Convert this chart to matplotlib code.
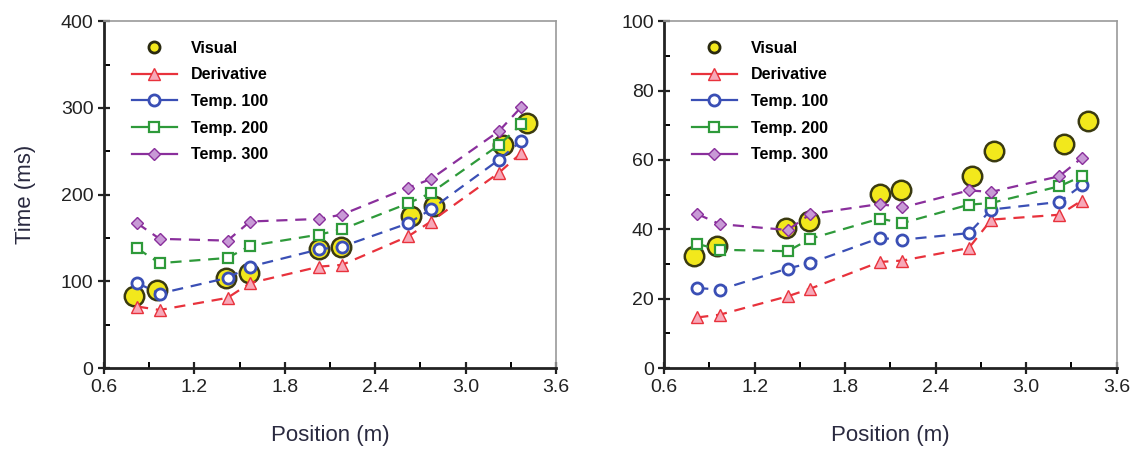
import numpy as np
import matplotlib
matplotlib.use("Agg")
import matplotlib.pyplot as plt
from matplotlib.lines import Line2D
from matplotlib.ticker import MultipleLocator

plt.rcParams['font.family'] = ['Liberation Sans', 'DejaVu Sans']

# positions (m)
pos = [0.82, 0.97, 1.42, 1.57, 2.03, 2.18, 2.62, 2.77, 3.22, 3.37]
pos_visual = [0.80, 0.95, 1.41, 1.56, 2.03, 2.17, 2.64, 2.79, 3.25, 3.41]

# left panel (ms)
left_visual = [83, 90, 104, 110, 137, 140, 175, 187, 257, 283]
left_deriv = [71, 67, 81, 98, 117, 119, 152, 169, 225, 248]
left_t100 = [98, 86, 104, 117, 137, 140, 167, 183, 240, 262]
left_t200 = [138, 121, 127, 141, 154, 160, 190, 202, 257, 281]
left_t300 = [167, 149, 147, 169, 172, 177, 208, 218, 273, 301]

# right panel (ms)
right_visual = [32.4, 35.3, 40.4, 42.5, 50.2, 51.2, 55.3, 62.7, 64.6, 71.3]
right_deriv = [14.6, 15.4, 20.7, 22.9, 30.6, 31.0, 34.6, 42.8, 44.2, 48.3]
right_t100 = [23.1, 22.6, 28.7, 30.3, 37.5, 37.0, 38.9, 45.7, 47.9, 52.7]
right_t200 = [35.8, 34.1, 33.7, 37.3, 43.1, 41.8, 47.1, 47.6, 52.4, 55.3]
right_t300 = [44.4, 41.5, 39.8, 44.4, 47.3, 46.3, 51.2, 50.8, 55.3, 60.6]

labels = ['Visual', 'Derivative', 'Temp. 100', 'Temp. 200', 'Temp. 300']

styles = [
    dict(color='#e8323c', marker='^', mfc='#f7a8b8', mec='#e8323c', ms=8.5),
    dict(color='#3a4fb5', marker='o', mfc='white', mec='#3a4fb5', ms=8, mew=2),
    dict(color='#2e9a3a', marker='s', mfc='white', mec='#2e9a3a', ms=7, mew=1.6),
    dict(color='#8a2f9c', marker='D', mfc='#c89ad6', mec='#8a2f9c', ms=6),
]


def draw(ax, visual, series, ymax, ystep, yminor):
    ax.plot(pos_visual, visual, 'o', ms=14, mfc='#f2e81c', mec='#3a3a10',
            mew=1.8, zorder=2, ls='none')
    for vals, st in zip(series, styles):
        ax.plot(pos, vals, ls=(0, (5, 3.5)), lw=1.6, zorder=3, **st)

    ax.set_xlim(0.6, 3.6)
    ax.set_ylim(0, ymax)
    ax.xaxis.set_major_locator(MultipleLocator(0.6))
    ax.xaxis.set_minor_locator(MultipleLocator(0.3))
    ax.yaxis.set_major_locator(MultipleLocator(ystep))
    ax.yaxis.set_minor_locator(MultipleLocator(yminor))
    ax.xaxis.set_major_formatter(plt.FuncFormatter(lambda v, p: f'{v:.1f}'))
    ax.tick_params(which='major', direction='inout', length=9, width=1.6,
                   labelsize=14, colors='#222222', pad=3)
    ax.tick_params(which='minor', direction='in', length=4, width=1.4)
    for s in ['left', 'bottom']:
        ax.spines[s].set_linewidth(2)
        ax.spines[s].set_color('#222222')
    for s in ['top', 'right']:
        ax.spines[s].set_linewidth(1.2)
        ax.spines[s].set_color('#9a9a9a')
    ax.set_xlabel('Position (m)', fontsize=16, color='#2a2a40', labelpad=21)

    handles = [Line2D([], [], ls='none', marker='o', ms=8, mfc='#f2e81c',
                      mec='#2a2a10', mew=2)]
    for st in styles:
        handles.append(Line2D([], [], ls='-', lw=1.6, **st))
    ax.legend(handles, labels, loc='upper left', bbox_to_anchor=(0.03, 0.985),
              frameon=False, handlelength=2.8,
              labelspacing=0.73, handletextpad=0.9,
              prop={'weight': 'bold', 'size': 11.5})


fig = plt.figure(figsize=(11.4, 4.5), dpi=100)
ax1 = fig.add_axes([0.0912, 0.182, 0.3965, 0.771])
ax2 = fig.add_axes([0.5825, 0.182, 0.397, 0.771])

draw(ax1, left_visual, [left_deriv, left_t100, left_t200, left_t300], 400, 100, 50)
draw(ax2, right_visual, [right_deriv, right_t100, right_t200, right_t300], 100, 20, 10)
ax1.set_ylabel('Time (ms)', fontsize=16, color='#2a2a40', labelpad=18)

fig.savefig('out.png', dpi=100)
